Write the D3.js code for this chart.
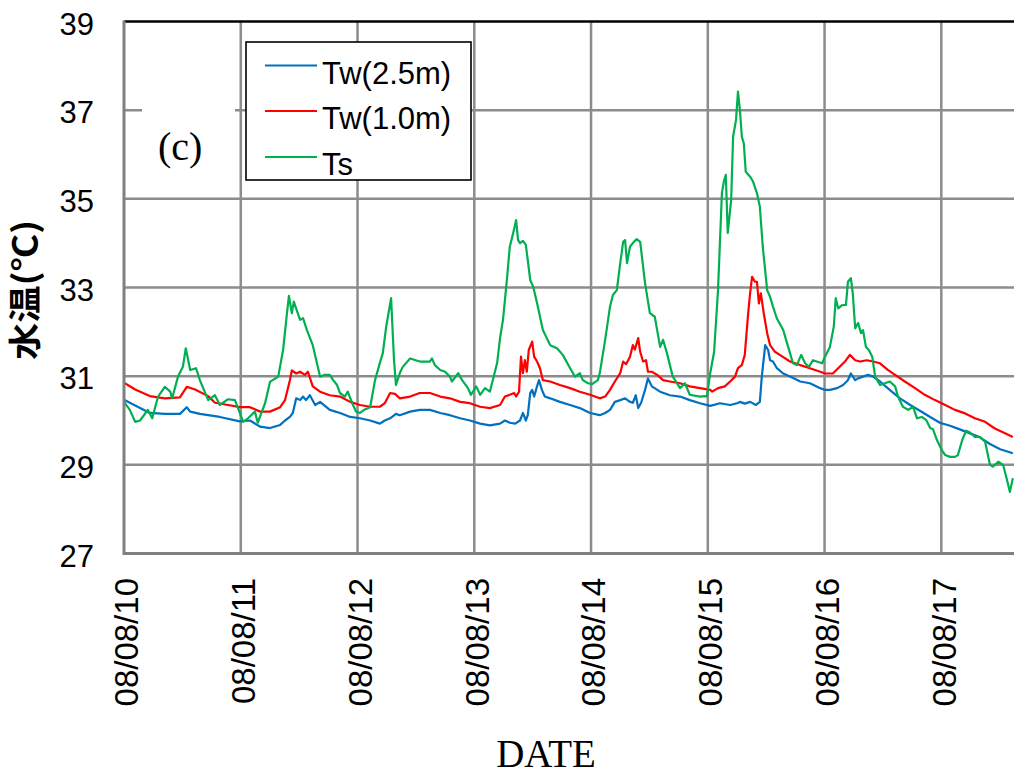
<!DOCTYPE html>
<html>
<head>
<meta charset="utf-8">
<script src="https://cdn.jsdelivr.net/npm/d3@7"></script>
<style>
  html, body { margin: 0; padding: 0; background: #fff; }
  svg { display: block; }
</style>
</head>
<body>
<svg id="chart" width="1014" height="778"></svg>
<script>
// Tick positions (hours since 08/08/10 00:00) and their labels
const dayTicks = [0, 24, 48, 72, 96, 120, 144, 168];
const dateLabels = ["08/08/10", "08/08/11", "08/08/12", "08/08/13", "08/08/14", "08/08/15", "08/08/16", "08/08/17"];
const tempTicks = [27, 29, 31, 33, 35, 37, 39];

const seriesNames = ["Tw(2.5m)", "Tw(1.0m)", "Ts"];

// Water temperature at 2.5 m depth: [hour, °C]
const tw25 = [
  [0, 30.47], [5.3, 30.17], [8.4, 30.15], [11.5, 30.15], [12.9, 30.3], [13.6, 30.2], [15.6, 30.15], [19.7, 30.08], [23.8, 29.98],
  [25.9, 30.0], [28.0, 29.86], [30.0, 29.83], [32.1, 29.9], [33.1, 30.0], [34.1, 30.08], [34.7, 30.17], [35.4, 30.5], [36.2, 30.46],
  [36.8, 30.54], [37.4, 30.46], [38.2, 30.57], [39.3, 30.35], [40.3, 30.42], [42.3, 30.24], [44.4, 30.17], [46.5, 30.08], [48.5, 30.05],
  [50.6, 30.0], [52.6, 29.93], [53.6, 30.0], [54.7, 30.05], [55.9, 30.15],
  [56.7, 30.12], [58.8, 30.2], [60.8, 30.24], [62.9, 30.24], [65.0, 30.17], [67.0, 30.12], [69.1, 30.05], [71.1, 30.0], [73.2, 29.93],
  [75.2, 29.89], [77.3, 29.93], [78.3, 30.0], [79.3, 29.95], [80.4, 29.93], [81.4, 30.0], [82.0, 30.17], [82.6, 30.0], [83.0, 30.12],
  [83.5, 30.62], [83.9, 30.69], [84.3, 30.54], [84.9, 30.77], [85.3, 30.91], [85.9, 30.69], [86.5, 30.54], [87.6, 30.5], [89.6, 30.42],
  [91.7, 30.35], [93.7, 30.28], [95.8, 30.17], [97.8, 30.12], [98.9, 30.17], [99.9, 30.24], [100.9, 30.42], [102.0, 30.46], [103.0, 30.5],
  [104.0, 30.42], [104.6, 30.4], [105.2, 30.57], [105.7, 30.28], [106.3, 30.4], [107.1, 30.69], [107.7, 30.95], [108.5, 30.77],
  [110.2, 30.65], [112.2, 30.57], [114.3, 30.54], [116.3, 30.46], [118.4, 30.39], [120.5, 30.33],
  [122.5, 30.39], [124.6, 30.35], [126.0, 30.39], [126.6, 30.42], [127.6, 30.38], [128.7, 30.42], [129.9, 30.35], [130.7, 30.42],
  [131.1, 30.99], [131.8, 31.7], [132.4, 31.59], [132.8, 31.36], [133.4, 31.33], [134.2, 31.18], [135.5, 31.06], [136.9, 30.99],
  [139.0, 30.88], [141.0, 30.84], [143.1, 30.73], [144.1, 30.69], [145.1, 30.69], [146.6, 30.73], [147.8, 30.8], [148.8, 30.91],
  [149.4, 31.06], [150.3, 30.91], [150.9, 30.95], [151.9, 30.99], [152.9, 31.03], [154.0, 30.99], [155.4, 30.88], [157.4, 30.69],
  [159.5, 30.5], [161.6, 30.35], [163.6, 30.22], [165.7, 30.08], [167.7, 29.95], [169.8, 29.88], [171.8, 29.8], [173.9, 29.71],
  [175.9, 29.62], [178.0, 29.47], [180.1, 29.35], [182.7, 29.26]
];

// Water temperature at 1.0 m depth: [hour, °C]
const tw10 = [
  [0, 30.85], [2.3, 30.7], [5.3, 30.55], [8.4, 30.5], [11.5, 30.52], [12.9, 30.76], [14.6, 30.7], [17.3, 30.55], [18.7, 30.4],
  [21.4, 30.35], [23.8, 30.3],
  [25.9, 30.3], [28.0, 30.2], [30.0, 30.2], [32.1, 30.3], [33.1, 30.46], [34.1, 30.91], [34.5, 31.13], [35.4, 31.06], [36.2, 31.1],
  [37.2, 31.03], [37.8, 31.1], [38.8, 30.77], [40.3, 30.65], [42.3, 30.57], [44.4, 30.54], [46.5, 30.42], [48.5, 30.35], [50.6, 30.31],
  [52.6, 30.31], [53.6, 30.39], [54.7, 30.62], [55.7, 30.6],
  [56.7, 30.5], [58.8, 30.54], [60.8, 30.62], [62.9, 30.62], [65.0, 30.54], [67.0, 30.5], [69.1, 30.42], [71.1, 30.39], [73.2, 30.31],
  [75.2, 30.28], [77.3, 30.35], [78.3, 30.54], [79.3, 30.58], [80.2, 30.62], [80.6, 30.54], [81.2, 30.65], [81.6, 31.44], [82.0, 31.07],
  [82.4, 31.36], [82.8, 31.1], [83.2, 31.59], [83.9, 31.78], [84.3, 31.44], [84.9, 31.33], [85.5, 31.18], [86.1, 30.91], [87.6, 30.88],
  [89.6, 30.8], [91.7, 30.73], [93.7, 30.65], [95.8, 30.58], [97.8, 30.5], [98.9, 30.54], [99.9, 30.69], [100.9, 30.88], [102.0, 31.07],
  [102.6, 31.33], [103.2, 31.27], [104.0, 31.44], [104.6, 31.7], [105.0, 31.6], [105.7, 31.86], [106.1, 31.55], [106.7, 31.33],
  [107.3, 31.36], [107.7, 31.1], [108.5, 31.1], [109.6, 31.03], [110.8, 30.91], [112.2, 30.88], [114.3, 30.84], [116.3, 30.77],
  [118.4, 30.73], [120.5, 30.69], [120.9, 30.65], [122.1, 30.73], [123.5, 30.77], [124.6, 30.88], [125.6, 30.99], [126.2, 31.18],
  [127.0, 31.25], [127.6, 31.48], [128.3, 32.42], [128.7, 32.87], [129.1, 33.24], [129.7, 33.13], [130.1, 33.13], [130.5, 32.64],
  [130.9, 32.87], [131.5, 32.42], [132.2, 31.97], [132.8, 31.7], [133.8, 31.55], [134.8, 31.48], [136.9, 31.33], [139.0, 31.25],
  [141.0, 31.18], [143.1, 31.1], [144.1, 31.06], [145.7, 31.06], [146.8, 31.18], [148.2, 31.33], [149.2, 31.48], [150.3, 31.36],
  [151.3, 31.33], [152.7, 31.36], [154.0, 31.33], [155.4, 31.29], [157.0, 31.14], [158.5, 31.03], [160.5, 30.88], [162.6, 30.73],
  [164.6, 30.58], [166.7, 30.46], [168.8, 30.35], [170.8, 30.24], [172.9, 30.16], [174.9, 30.05], [177.0, 29.97], [179.0, 29.82],
  [181.1, 29.71], [182.7, 29.63]
];

// Surface temperature: [hour, °C]
const ts = [
  [0, 30.42], [1.2, 30.24], [2.3, 29.97], [3.3, 30.0], [4.9, 30.24], [5.8, 30.05], [7.0, 30.54], [8.4, 30.76], [9.5, 30.65],
  [9.9, 30.5], [11.1, 30.99], [12.1, 31.21], [12.7, 31.63], [13.6, 31.14], [14.8, 31.18], [15.6, 30.91], [17.3, 30.46], [18.7, 30.57],
  [19.7, 30.35], [21.4, 30.48], [22.8, 30.46], [23.8, 30.17],
  [24.5, 29.97], [25.5, 30.05], [26.9, 30.2], [27.5, 29.95], [29.0, 30.39], [30.0, 30.87], [31.7, 30.99], [32.7, 31.59], [33.5, 32.42],
  [33.9, 32.81], [34.5, 32.42], [34.9, 32.68], [36.2, 32.27], [36.8, 32.31], [37.6, 32.04], [38.8, 31.7], [40.3, 30.99], [41.3, 31.03],
  [42.3, 31.03], [43.0, 30.91], [43.8, 30.8], [44.4, 30.62], [45.4, 30.54], [46.0, 30.65], [46.9, 30.39], [47.7, 30.2],
  [48.5, 30.17], [49.5, 30.25], [50.6, 30.3], [51.6, 30.91], [52.6, 31.3], [53.2, 31.52], [53.9, 32.12], [54.9, 32.76], [55.5, 31.37],
  [55.9, 30.8], [56.7, 31.07], [57.3, 31.21], [58.8, 31.4], [60.8, 31.33], [62.9, 31.33], [63.3, 31.4], [63.9, 31.25], [65.0, 31.14],
  [66.0, 31.1], [67.0, 30.99], [67.4, 30.88], [68.7, 31.07], [69.5, 30.91], [70.7, 30.73], [71.3, 30.58],
  [72.4, 30.77], [73.2, 30.58], [74.2, 30.73], [75.2, 30.65], [75.8, 30.91], [76.7, 31.3], [77.3, 31.86], [77.9, 32.27], [78.7, 33.17],
  [79.3, 33.92], [80.0, 34.23], [80.6, 34.52], [81.0, 34.07], [81.4, 34.0], [82.0, 34.05], [82.6, 33.96], [83.5, 33.17], [84.1, 33.02],
  [84.9, 32.65], [86.1, 32.04], [87.6, 31.7], [89.0, 31.63], [90.2, 31.48], [91.7, 31.18], [92.7, 30.99], [93.7, 31.07], [94.3, 30.91],
  [95.4, 30.84], [96.2, 30.82], [97.4, 30.91], [97.8, 31.07], [98.9, 31.82], [99.9, 32.57], [100.5, 32.83], [101.3, 32.94],
  [102.0, 33.55], [102.6, 34.03], [103.0, 34.07], [103.4, 33.55], [104.0, 33.92], [104.8, 34.03], [105.4, 34.09], [106.1, 34.03],
  [107.1, 33.1], [108.1, 32.42], [109.1, 32.34], [110.2, 31.66], [110.8, 31.82], [111.6, 31.52], [112.8, 30.99], [114.3, 30.73],
  [115.3, 30.84], [116.3, 30.58], [118.4, 30.54], [119.4, 30.55], [119.8, 30.54],
  [120.5, 31.07], [121.3, 31.55], [122.1, 32.94], [122.9, 35.13], [123.3, 35.39], [123.7, 35.54], [124.1, 34.23], [124.8, 34.97],
  [125.2, 36.4], [125.8, 36.78], [126.2, 37.42], [126.6, 37.0], [127.0, 36.4], [127.4, 36.25], [127.8, 35.61], [128.7, 35.5],
  [129.3, 35.39], [130.1, 35.13], [130.7, 34.82], [131.3, 33.92], [132.2, 32.94], [132.8, 32.79], [133.4, 32.57], [134.2, 32.3],
  [135.5, 32.04], [136.3, 31.74], [136.9, 31.52], [137.5, 31.29], [138.3, 31.25], [139.2, 31.48], [140.0, 31.29], [140.8, 31.21],
  [141.6, 31.36], [142.4, 31.33], [143.5, 31.29],
  [144.1, 31.44], [145.1, 31.66], [145.9, 32.12], [146.3, 32.76], [146.8, 32.53], [147.6, 32.6], [148.4, 32.61], [148.8, 33.13],
  [149.4, 33.21], [149.8, 32.87], [150.3, 32.08], [150.9, 32.2], [151.5, 31.97], [151.9, 32.04], [152.5, 31.66], [153.1, 31.59],
  [153.8, 31.44], [154.4, 30.99], [155.4, 30.8], [156.4, 30.84], [157.4, 30.88], [158.5, 30.77], [159.1, 30.54], [160.1, 30.31],
  [161.2, 30.24], [162.2, 30.31], [163.0, 30.05], [164.0, 30.08], [164.9, 30.01], [165.7, 29.83], [166.3, 29.8], [167.1, 29.56],
  [168.1, 29.33], [168.8, 29.22], [169.8, 29.18], [170.8, 29.18], [171.4, 29.22], [172.3, 29.56], [173.1, 29.77], [173.9, 29.73],
  [174.9, 29.63], [175.9, 29.63], [177.0, 29.52], [178.0, 29.0], [178.6, 28.96], [179.7, 29.07], [180.7, 29.0], [181.5, 28.66],
  [182.1, 28.39], [182.7, 28.7]
];

const colors = ["#0070C0", "#FF0000", "#00B050"];
const seriesData = [tw25, tw10, ts];

// Plot frame; the 8th day runs past the right edge of the page
const plotLeft = 124, plotTop = 21.5, plotBottom = 553.5, dayWidth = 116.76;
const plotRight = plotLeft + 8 * dayWidth;

const x = d3.scaleLinear().domain([0, 192]).range([plotLeft, plotRight]);
const y = d3.scaleLinear().domain([27, 39]).range([plotBottom, plotTop]);

const svg = d3.select("#chart");

svg.append("defs").append("clipPath").attr("id", "plotClip")
  .append("rect").attr("x", plotLeft).attr("y", plotTop - 2)
  .attr("width", plotRight - plotLeft).attr("height", plotBottom - plotTop + 4);

const gridColor = "#8c8c8c";

// Grid
const grid = svg.append("g");
grid.selectAll("line.h").data(tempTicks.filter(t => t > 27 && t < 39)).join("line")
  .attr("x1", plotLeft).attr("x2", plotRight)
  .attr("y1", d => y(d)).attr("y2", d => y(d))
  .attr("stroke", gridColor).attr("stroke-width", 2.5);
grid.selectAll("line.v").data(dayTicks.filter(d => d > 0)).join("line")
  .attr("x1", d => x(d)).attr("x2", d => x(d))
  .attr("y1", plotTop).attr("y2", plotBottom)
  .attr("stroke", gridColor).attr("stroke-width", 2.5);

// Series lines
const line = d3.line().x(d => x(d[0])).y(d => y(d[1]));
const lines = svg.append("g").attr("clip-path", "url(#plotClip)");
seriesData.forEach((data, i) => {
  lines.append("path").datum(data)
    .attr("d", line)
    .attr("fill", "none")
    .attr("stroke", colors[i])
    .attr("stroke-width", 2.2)
    .attr("stroke-linejoin", "round");
});

// Frame: top border black, left and bottom axes gray
svg.append("line").attr("x1", plotLeft).attr("x2", plotRight).attr("y1", plotTop).attr("y2", plotTop)
  .attr("stroke", "#000").attr("stroke-width", 2.3);
svg.append("line").attr("x1", plotLeft).attr("x2", plotLeft).attr("y1", plotTop - 1).attr("y2", plotBottom + 1.5)
  .attr("stroke", "#808080").attr("stroke-width", 3);
svg.append("line").attr("x1", plotLeft).attr("x2", plotRight).attr("y1", plotBottom).attr("y2", plotBottom)
  .attr("stroke", "#808080").attr("stroke-width", 3);

// Y axis labels
const yAxis = svg.append("g").attr("transform", `translate(${plotLeft},0)`)
  .call(d3.axisLeft(y).tickValues(tempTicks).tickSize(0).tickPadding(30).tickFormat(d3.format("d")));
yAxis.select(".domain").remove();
yAxis.selectAll("text")
  .attr("font-family", "'Liberation Sans', Arial, sans-serif")
  .attr("font-size", 31).attr("fill", "#000")
  .attr("dy", "0.41em");

// X axis labels, rotated
const xAxis = svg.append("g").attr("transform", `translate(0,${plotBottom})`)
  .call(d3.axisBottom(x).tickValues(dayTicks).tickSize(0).tickFormat((d, i) => dateLabels[i]));
xAxis.select(".domain").remove();
xAxis.selectAll("text")
  .attr("font-family", "'Liberation Sans', Arial, sans-serif")
  .attr("font-size", 33).attr("fill", "#000")
  .attr("y", 0).attr("dy", 0)
  .attr("text-anchor", "end")
  .attr("transform", "translate(13.8,24.5) rotate(-90)");

// Axis titles
svg.append("text")
  .attr("transform", "translate(37,290) rotate(-90)")
  .attr("text-anchor", "middle")
  .attr("font-family", "'Noto Sans CJK JP', sans-serif")
  .attr("font-weight", "bold")
  .attr("font-size", 33)
  .attr("textLength", 140)
  .attr("lengthAdjust", "spacingAndGlyphs")
  .text("水温(℃)");

svg.append("text")
  .attr("x", 546).attr("y", 767)
  .attr("text-anchor", "middle")
  .attr("font-family", "'Liberation Serif', 'Times New Roman', serif")
  .attr("font-size", 39)
  .text("DATE");

// Panel tag
svg.append("rect").attr("x", 142).attr("y", 92).attr("width", 93).attr("height", 92).attr("fill", "#fff");
svg.append("text")
  .attr("x", 158).attr("y", 160)
  .attr("font-family", "'Liberation Serif', 'Times New Roman', serif")
  .attr("font-size", 40)
  .text("(c)");

// Legend
const legend = svg.append("g");
legend.append("rect")
  .attr("x", 246).attr("y", 42).attr("width", 225).attr("height", 138)
  .attr("fill", "#fff").attr("stroke", "#000").attr("stroke-width", 1.6);
const rowY = [65.5, 111, 157];
seriesNames.forEach((name, i) => {
  legend.append("line")
    .attr("x1", 265).attr("x2", 317).attr("y1", rowY[i]).attr("y2", rowY[i])
    .attr("stroke", colors[i]).attr("stroke-width", 2);
  legend.append("text")
    .attr("x", 322).attr("y", rowY[i] + 18)
    .attr("font-family", "'Liberation Sans', Arial, sans-serif")
    .attr("font-size", 31)
    .text(name);
});
</script>
</body>
</html>
